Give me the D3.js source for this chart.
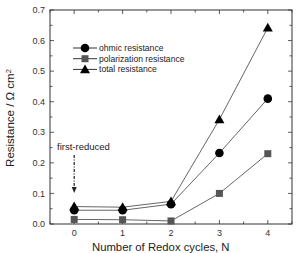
<!DOCTYPE html>
<html>
<head>
<meta charset="utf-8">
<script src="https://cdn.jsdelivr.net/npm/d3@7"></script>
<style>
  body { margin: 0; background: #fff; }
  text { font-family: "Liberation Sans", Arial, sans-serif; }
</style>
</head>
<body>
<div id="chart"></div>
<script>
var cycles = [0, 1, 2, 3, 4];
var ohmic = [0.045, 0.045, 0.065, 0.232, 0.41];
var polarization = [0.015, 0.014, 0.01, 0.1, 0.23];
var total = [0.057, 0.055, 0.074, 0.342, 0.642];
var yTicks = [0.0, 0.1, 0.2, 0.3, 0.4, 0.5, 0.6, 0.7];
var seriesNames = ["ohmic resistance", "polarization resistance", "total resistance"];

var w = 298, h = 253;
var marg = { top: 10, right: 6, bottom: 29, left: 50 };

var svg = d3.select("#chart").append("svg")
  .attr("width", w).attr("height", h);

var x = d3.scaleLinear().domain([-0.5, 4.5]).range([marg.left, w - marg.right]);
var y = d3.scaleLinear().domain([0, 0.7]).range([h - marg.bottom, marg.top]);

var axisColor = "#333";

// frame
svg.append("rect")
  .attr("x", x(-0.5)).attr("y", y(0.7))
  .attr("width", x(4.5) - x(-0.5)).attr("height", y(0) - y(0.7))
  .attr("fill", "none").attr("stroke", axisColor).attr("stroke-width", 1);

// ticks, inward on all four sides
var g = svg.append("g").attr("stroke", axisColor).attr("stroke-width", 0.8);
d3.range(-0.5, 4.51, 0.5).forEach(function(d) {
  var len = Number.isInteger(d) ? 4 : 2.5;
  g.append("line").attr("x1", x(d)).attr("x2", x(d)).attr("y1", y(0)).attr("y2", y(0) - len);
  g.append("line").attr("x1", x(d)).attr("x2", x(d)).attr("y1", y(0.7)).attr("y2", y(0.7) + len);
});
d3.range(0, 0.701, 0.05).forEach(function(d) {
  var major = Math.abs(d * 10 - Math.round(d * 10)) < 1e-6;
  var len = major ? 4 : 2.5;
  g.append("line").attr("x1", x(-0.5)).attr("x2", x(-0.5) + len).attr("y1", y(d)).attr("y2", y(d));
  g.append("line").attr("x1", x(4.5)).attr("x2", x(4.5) - len).attr("y1", y(d)).attr("y2", y(d));
});

svg.selectAll(".ylab").data(yTicks).enter().append("text")
  .attr("x", x(-0.5) - 5).attr("y", function(d) { return y(d); })
  .attr("dy", "0.35em").attr("text-anchor", "end")
  .attr("font-size", 9).attr("fill", axisColor)
  .text(function(d) { return d.toFixed(1); });

svg.selectAll(".xlab").data(cycles).enter().append("text")
  .attr("x", function(d) { return x(d); }).attr("y", y(0) + 12)
  .attr("text-anchor", "middle")
  .attr("font-size", 9).attr("fill", axisColor)
  .text(function(d) { return d; });

svg.append("text")
  .attr("x", 92).attr("y", 251)
  .attr("font-size", 11.3).attr("fill", "#222")
  .text("Number of Redox cycles, N");

var yl = svg.append("text")
  .attr("transform", "translate(14," + 118 + ") rotate(-90)")
  .attr("text-anchor", "middle")
  .attr("font-size", 11.5).attr("fill", "#222");
yl.append("tspan").text("Resistance / \u03A9 cm");
yl.append("tspan").attr("dy", "-0.45em").attr("font-size", 7.5).text("2");

// lines
var line = d3.line().x(function(d, i) { return x(cycles[i]); }).y(function(d) { return y(d); });
[ohmic, polarization, total].forEach(function(s) {
  svg.append("path").attr("d", line(s))
    .attr("fill", "none").attr("stroke", "#555").attr("stroke-width", 0.9);
});

function marker(sel, type, cx, cy) {
  if (type === "circle") {
    sel.append("circle").attr("cx", cx).attr("cy", cy).attr("r", 4.3).attr("fill", "#000");
  } else if (type === "square") {
    sel.append("rect").attr("x", cx - 3.5).attr("y", cy - 3.5).attr("width", 7).attr("height", 7).attr("fill", "#555");
  } else {
    var s = 5;
    sel.append("path").attr("d", "M" + cx + "," + (cy - s) + "L" + (cx + s) + "," + (cy + s * 0.75) + "L" + (cx - s) + "," + (cy + s * 0.75) + "Z")
      .attr("fill", "#000");
  }
}

var types = ["square", "triangle", "circle"];
[polarization, total, ohmic].forEach(function(s, k) {
  s.forEach(function(d, i) { marker(svg, types[k], x(cycles[i]), y(d)); });
});

// legend
var legTypes = ["circle", "square", "triangle"];
seriesNames.forEach(function(name, i) {
  var ly = 48 + i * 10.7;
  svg.append("line").attr("x1", 73).attr("x2", 97).attr("y1", ly).attr("y2", ly)
    .attr("stroke", "#333").attr("stroke-width", 1);
  marker(svg, legTypes[i], 85, ly);
  svg.append("text").attr("x", 99).attr("y", ly).attr("dy", "0.35em")
    .attr("font-size", 8.6).attr("fill", "#222").text(name);
});

// annotation
svg.append("text").attr("x", 57).attr("y", 150)
  .attr("font-size", 9.5).attr("fill", "#222").text("first-reduced");
svg.append("line").attr("x1", x(0)).attr("x2", x(0)).attr("y1", 155).attr("y2", 188)
  .attr("stroke", "#222").attr("stroke-width", 1.2).attr("stroke-dasharray", "3,1.5,1,1.5");
svg.append("path")
  .attr("d", "M" + (x(0) - 2.5) + ",187L" + (x(0) + 2.5) + ",187L" + x(0) + ",193Z")
  .attr("fill", "#222");
</script>
</body>
</html>
